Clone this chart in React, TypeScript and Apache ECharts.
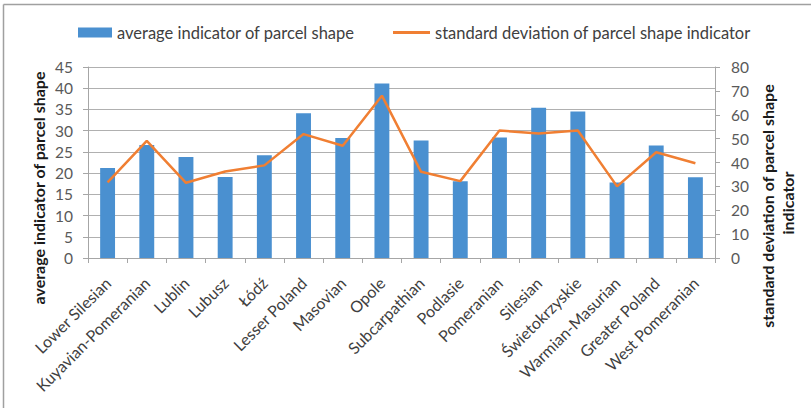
import React, { useEffect, useRef } from "react";
import * as echarts from "echarts";

const categories = [
  "Lower Silesian", "Kuyavian-Pomeranian", "Lublin", "Lubusz", "Łódź",
  "Lesser Poland", "Masovian", "Opole", "Subcarpathian", "Podlasie",
  "Pomeranian", "Silesian", "Świetokrzyskie", "Warmian-Masurian",
  "Greater Poland", "West Pomeranian",
];
const averageIndicator = [21.2, 26.6, 23.8, 19.1, 24.2, 34.1, 28.3, 41.1, 27.7, 18.1, 28.4, 35.4, 34.5, 17.8, 26.5, 19.0];
const stdDeviation = [31.7, 49.1, 31.5, 36.2, 38.8, 51.9, 47.0, 68.0, 36.1, 32.2, 53.4, 52.1, 53.4, 30.0, 44.3, 39.7];
const barName = "average indicator of parcel shape";
const lineName = "standard deviation of parcel shape indicator";
const leftAxisTitle = "average indicator of parcel shape";
const rightAxisTitle = ["standard deviation of parcel shape", "indicator"];

const FONT = "Lato";

export default function App() {
  const ref = useRef<HTMLDivElement>(null);
  useEffect(() => {
    if (!ref.current) return;
    const chart = echarts.init(ref.current, null, { renderer: "svg" });
    chart.setOption({
      animation: false,
      backgroundColor: "#ffffff",
      textStyle: { fontFamily: FONT },
      grid: { left: 88, right: 96, top: 67, bottom: 150 },
      legend: [
        {
          data: [{ name: barName, icon: "rect" }],
          left: 73, top: 19, itemWidth: 34, itemHeight: 10, itemGap: 5,
          textStyle: { fontFamily: FONT, fontSize: 16.5, color: "#404040" },
        },
        {
          data: [{ name: lineName, icon: "rect" }],
          left: 388, top: 19, itemWidth: 37, itemHeight: 3, itemGap: 5,
          textStyle: { fontFamily: FONT, fontSize: 16.5, color: "#404040" },
        },
      ],
      xAxis: {
        type: "category",
        data: categories,
        axisLine: { show: true, lineStyle: { color: "#a6a6a6" } },
        axisTick: { show: true, alignWithLabel: false, length: 5, lineStyle: { color: "#a6a6a6" } },
        axisLabel: { interval: 0, rotate: 45, margin: 22, fontSize: 16, color: "#404040", fontFamily: FONT },
      },
      yAxis: [
        {
          type: "value", min: 0, max: 45, interval: 5,
          axisLine: { show: true, lineStyle: { color: "#a6a6a6" } },
          axisTick: { show: true, length: 5, lineStyle: { color: "#a6a6a6" } },
          axisLabel: { margin: 15, fontSize: 15.5, color: "#595959", fontFamily: FONT },
          splitLine: { lineStyle: { color: "#b0b0b0" } },
        },
        {
          type: "value", min: 0, max: 80, interval: 10, position: "right",
          axisLine: { show: true, lineStyle: { color: "#a6a6a6" } },
          axisTick: { show: true, length: 5, lineStyle: { color: "#a6a6a6" } },
          axisLabel: { margin: 16, fontSize: 15.5, color: "#595959", fontFamily: FONT },
          splitLine: { show: false },
        },
      ],
      series: [
        {
          name: barName, type: "bar", data: averageIndicator, yAxisIndex: 0,
          barWidth: "38%", itemStyle: { color: "#4a90d0" },
        },
        {
          name: lineName, type: "line", data: stdDeviation, yAxisIndex: 1,
          symbol: "none", lineStyle: { color: "#f07f33", width: 2.5 }, itemStyle: { color: "#f07f33" },
        },
      ],
      graphic: [
        { type: "line", shape: { x1: 3.5, y1: 4.5, x2: 811, y2: 4.5 }, style: { stroke: "#a0a0a0", lineWidth: 1.5 } },
        { type: "line", shape: { x1: 3.5, y1: 4.5, x2: 3.5, y2: 408 }, style: { stroke: "#a0a0a0", lineWidth: 1.5 } },
        {
          type: "text", x: 38, y: 188, rotation: Math.PI / 2,
          style: { text: leftAxisTitle, font: `bold 16px ${FONT}`, fill: "#1a1a1a", align: "center", verticalAlign: "middle" },
        },
        {
          type: "text", x: 767, y: 206, rotation: Math.PI / 2,
          style: { text: rightAxisTitle[0], font: `bold 16px ${FONT}`, fill: "#1a1a1a", align: "center", verticalAlign: "middle" },
        },
        {
          type: "text", x: 787, y: 203, rotation: Math.PI / 2,
          style: { text: rightAxisTitle[1], font: `bold 16px ${FONT}`, fill: "#1a1a1a", align: "center", verticalAlign: "middle" },
        },
      ],
    });
    return () => chart.dispose();
  }, []);
  return <div ref={ref} style={{ position: "fixed", left: 0, top: 0, width: 811, height: 408 }} />;
}
